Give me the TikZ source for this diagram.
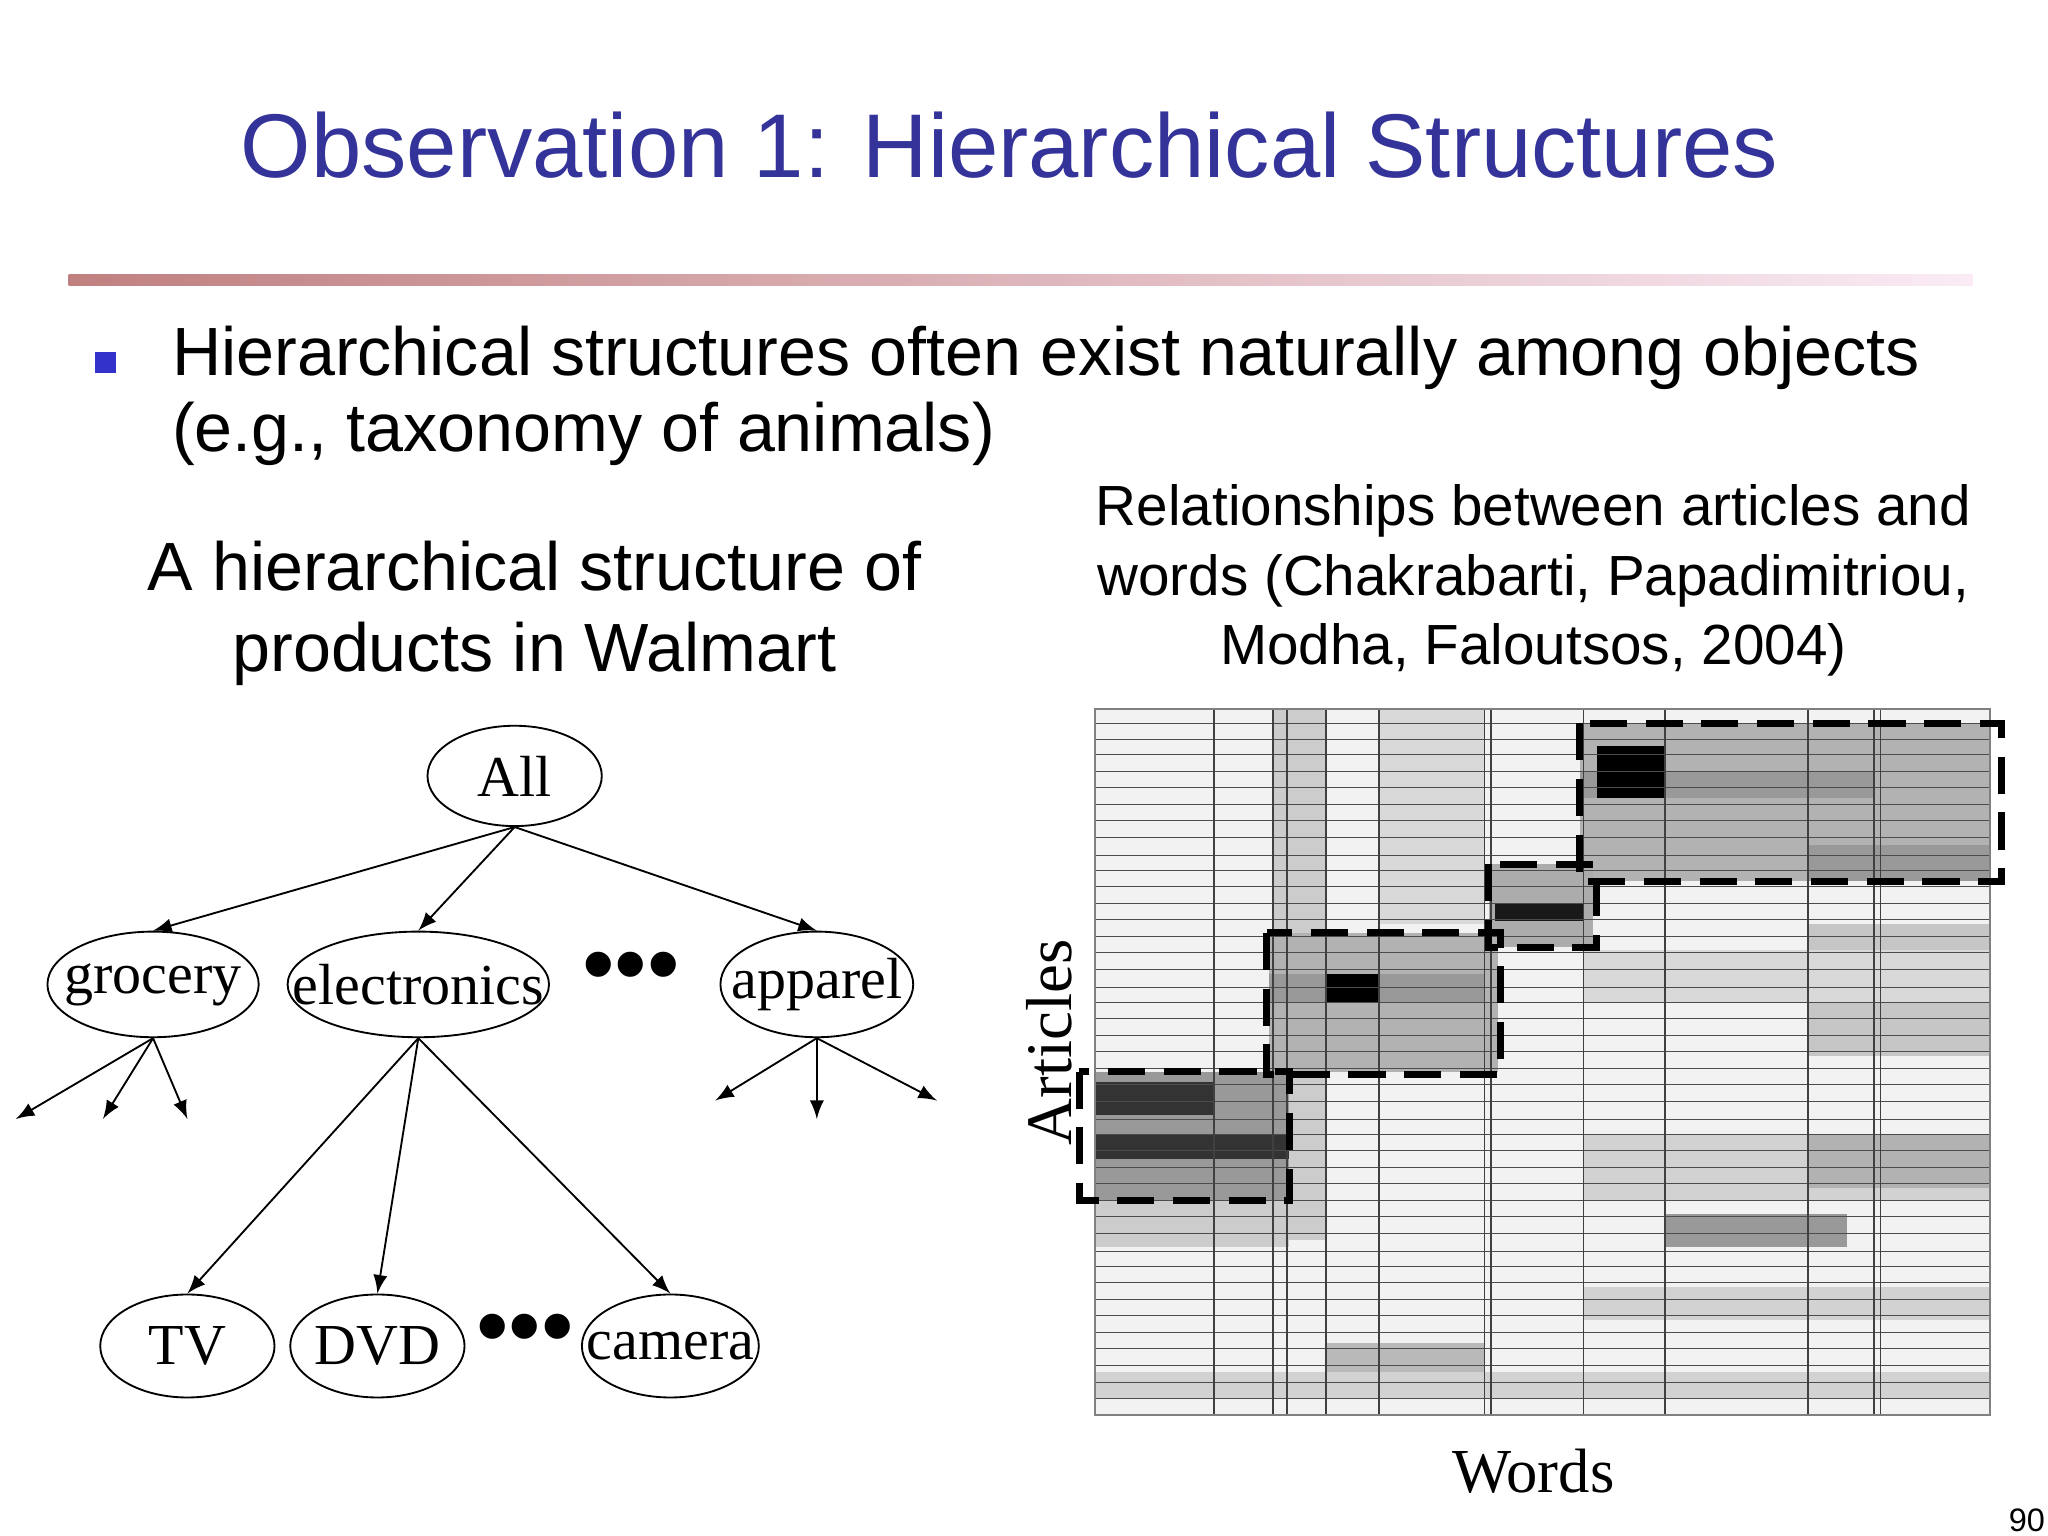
\documentclass[tikz,border=0pt]{standalone}
\usepackage{fontspec}
\setmainfont{Liberation Sans}
\newfontfamily\serifr{Liberation Serif}
\usetikzlibrary{shapes.geometric}
\definecolor{ttl}{HTML}{333399}
\definecolor{bulc}{HTML}{3333CC}
\definecolor{lnA}{HTML}{C08080}
\definecolor{lnB}{HTML}{FAEBF5}
\newcommand{\zb}[1]{\makebox[0pt]{#1}}
\begin{document}
\begin{tikzpicture}[x=0.01cm,y=-0.01cm,
  tn/.style={ellipse,draw,thin,font=\serifr\fontsize{12.5}{12.5}\selectfont,inner sep=0pt},
  ar/.style={-latex,thin},
  dbox/.style={draw,line width=1.5pt,dash pattern=on 8pt off 4pt}]
\useasboundingbox (0,0) rectangle (1552,1164);
\fill[white] (0,0) rectangle (1552,1164);
\node[text=ttl,font=\fontsize{19.5}{19.5}\selectfont] (title) at (765,110) {Observation 1: Hierarchical Structures};
\shade[left color=lnA,right color=lnB] (52,208) rectangle (1495,216);
\fill[bulc] (72,267) rectangle (88,283);
\node[anchor=west,align=left,font=\fontsize{14.7}{16.5}\selectfont] (bul) at (118,300) {Hierarchical structures often exist naturally among objects\\(e.g., taxonomy of animals)};
\node[align=center,font=\fontsize{14.7}{17.5}\selectfont] (lcap) at (405,465) {A hierarchical structure of\\products in Walmart};
\node[align=center,font=\fontsize{12.2}{15}\selectfont] (rcap) at (1162,440) {Relationships between articles and\\words (Chakrabarti, Papadimitriou,\\Modha, Faloutsos, 2004)};
% tree
\node[tn,minimum width=1.32cm,minimum height=0.76cm] (all) at (390,588) {\zb{All}};
\node[tn,minimum width=1.60cm,minimum height=0.80cm] (gro) at (116,746) {\zb{grocery}};
\node[tn,minimum width=1.98cm,minimum height=0.80cm] (ele) at (317,746) {\zb{electronics}};
\node[tn,minimum width=1.46cm,minimum height=0.80cm] (app) at (619,746) {\zb{apparel}};
\node[tn,minimum width=1.32cm,minimum height=0.78cm] (tv) at (142,1020) {\zb{TV}};
\node[tn,minimum width=1.32cm,minimum height=0.78cm] (dvd) at (286,1020) {\zb{DVD}};
\node[tn,minimum width=1.34cm,minimum height=0.78cm] (cam) at (508,1020) {\zb{camera}};
\node (d1) at (478,738) {\fontsize{20}{20}\selectfont\textbullet\textbullet\textbullet};
\node (d2) at (398,1012) {\fontsize{20}{20}\selectfont\textbullet\textbullet\textbullet};
\coordinate (g1) at (12,848); \coordinate (g2) at (78,848); \coordinate (g3) at (142,848);
\coordinate (a1) at (542,834); \coordinate (a2) at (619,848); \coordinate (a3) at (710,834);
\draw[ar] (all.south) -- (gro.north);
\draw[ar] (all.south) -- (ele.north);
\draw[ar] (all.south) -- (app.north);
\foreach \t in {g1,g2,g3} \draw[ar] (gro.south) -- (\t);
\foreach \t in {a1,a2,a3} \draw[ar] (app.south) -- (\t);
\draw[ar] (ele.south) -- (tv.north);
\draw[ar] (ele.south) -- (dvd.north);
\draw[ar] (ele.south) -- (cam.north);
% matrix
\fill[gray!10] (830,537) rectangle (1508,1072);
\fill[gray!40] (965,537) rectangle (1005,940);
\fill[gray!30] (1045,537) rectangle (1125,700);
\fill[gray!60] (1197,548) rectangle (1508,668);
\fill[gray!80] (1197,585) rectangle (1420,605);
\fill[gray!80] (1370,640) rectangle (1508,668);
\fill[black] (1210,565) rectangle (1262,605);
\fill[gray!65] (1128,655) rectangle (1207,718);
\fill[black!90] (1133,685) rectangle (1200,698);
\fill[gray!60] (962,707) rectangle (1135,812);
\fill[gray!80] (962,738) rectangle (1125,760);
\fill[black] (1005,738) rectangle (1045,760);
\fill[gray!45] (1370,700) rectangle (1508,800);
\fill[gray!30] (1200,720) rectangle (1508,760);
\fill[gray!35] (1200,860) rectangle (1508,910);
\fill[gray!60] (1370,860) rectangle (1508,900);
\fill[gray!80] (830,812) rectangle (977,910);
\fill[black!80] (830,820) rectangle (920,845);
\fill[black!80] (830,860) rectangle (977,878);
\fill[gray!40] (830,910) rectangle (977,945);
\fill[gray!80] (1262,920) rectangle (1400,945);
\fill[gray!35] (1200,975) rectangle (1508,1000);
\fill[gray!55] (1005,1018) rectangle (1125,1040);
\fill[gray!35] (830,1040) rectangle (1508,1060);
\foreach \yy in {548,560,572,585,597,610,622,635,648,660,672,685,697,710,722,735,748,760,772,785,797,810,822,835,848,860,872,885,897,910,922,935,948,960,972,985,997,1010,1022,1035,1048,1060}
  \draw[gray!60!black,very thin] (830,\yy) -- (1508,\yy);
\foreach \xx in {920,965,975,1005,1045,1125,1130,1200,1262,1370,1420,1425}
  \draw[gray!50!black,thin] (\xx,537) -- (\xx,1072);
\draw[gray] (830,537) rectangle (1508,1072);
\draw[dbox] (1197,548) rectangle (1517,668);
\draw[dbox] (1128,655) rectangle (1210,718);
\draw[dbox] (960,707) rectangle (1137,814);
\draw[dbox] (818,812) rectangle (977,910);
\node[rotate=90,font=\serifr\fontsize{14}{14}\selectfont] (arts) at (795,790) {Articles};
\node[font=\serifr\fontsize{13.5}{13.5}\selectfont] (words) at (1162,1115) {Words};
\node[font=\fontsize{7}{7}\selectfont] (pg) at (1536,1152) {90};
\end{tikzpicture}
\end{document}
